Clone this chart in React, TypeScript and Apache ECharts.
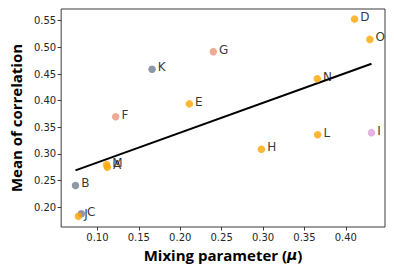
import React, { useEffect, useRef } from "react";
import * as echarts from "echarts";

const names = ["A", "B", "C", "D", "E", "F", "G", "H", "I", "J", "K", "L", "M", "N", "O"];
const mixing = [0.112, 0.0735, 0.0805, 0.4105, 0.211, 0.122, 0.240, 0.298, 0.431, 0.077, 0.166, 0.366, 0.111, 0.3655, 0.429];
const meanCorr = [0.275, 0.241, 0.188, 0.553, 0.394, 0.370, 0.492, 0.309, 0.340, 0.183, 0.459, 0.336, 0.280, 0.441, 0.515];
const groups = ["orange", "slate", "slate", "orange", "orange", "salmon", "salmon", "orange", "plum", "orange", "slate", "orange", "orange", "orange", "orange"];
const groupColors: Record<string, string> = {
  orange: "#FFA500",
  slate: "#708090",
  salmon: "#E9967A",
  plum: "#DDA0DD",
};
const xTicks = [0.1, 0.15, 0.2, 0.25, 0.3, 0.35, 0.4];
const yTicks = [0.2, 0.25, 0.3, 0.35, 0.4, 0.45, 0.5, 0.55];

function fitLine() {
  const n = mixing.length;
  const mx = mixing.reduce((a, b) => a + b, 0) / n;
  const my = meanCorr.reduce((a, b) => a + b, 0) / n;
  let sxy = 0;
  let sxx = 0;
  for (let i = 0; i < n; i++) {
    sxy += (mixing[i] - mx) * (meanCorr[i] - my);
    sxx += (mixing[i] - mx) * (mixing[i] - mx);
  }
  const slope = sxy / sxx;
  const b = my - slope * mx;
  const x0 = Math.min(...mixing);
  const x1 = Math.max(...mixing);
  return [
    [x0, b + slope * x0],
    [x1, b + slope * x1],
  ];
}

export default function App() {
  const ref = useRef<HTMLDivElement>(null);
  useEffect(() => {
    if (!ref.current) return;
    const chart = echarts.init(ref.current, null, { renderer: "svg" });
    const tickLabel = { color: "#262626", fontSize: 10, fontFamily: "DejaVu Sans" };
    chart.setOption({
      animation: false,
      backgroundColor: "#ffffff",
      grid: {
        left: 52,
        right: 9,
        top: 9,
        bottom: 42,
        show: true,
        borderColor: "#3a3a3a",
        borderWidth: 1,
        backgroundColor: "transparent",
      },
      xAxis: {
        type: "value",
        min: 0.0562,
        max: 0.4473,
        name: "Mixing parameter ({mu|μ})",
        nameLocation: "middle",
        nameGap: 28,
        nameTextStyle: {
          fontFamily: "Open Sans",
          fontWeight: "bold",
          fontSize: 15,
          color: "#000",
          verticalAlign: "middle",
          rich: {
            mu: { fontFamily: "DejaVu Sans", fontStyle: "italic", fontSize: 14, color: "#000" },
          },
        },
        splitLine: { show: false },
        axisLine: { show: false },
        axisTick: { show: true, length: 3.5, customValues: xTicks, lineStyle: { color: "#3a3a3a" } },
        axisLabel: {
          ...tickLabel,
          margin: 5,
          customValues: xTicks,
          formatter: (v: number) => v.toFixed(2),
        },
      },
      yAxis: {
        type: "value",
        min: 0.163,
        max: 0.572,
        name: "Mean of correlation",
        nameLocation: "middle",
        nameGap: 43,
        nameTextStyle: {
          fontFamily: "Open Sans",
          fontWeight: "bold",
          fontSize: 15,
          color: "#000",
          verticalAlign: "middle",
        },
        splitLine: { show: false },
        axisLine: { show: false },
        axisTick: { show: true, length: 3.5, customValues: yTicks, lineStyle: { color: "#3a3a3a" } },
        axisLabel: {
          ...tickLabel,
          margin: 5,
          customValues: yTicks,
          formatter: (v: number) => v.toFixed(2),
        },
      },
      series: [
        {
          type: "line",
          data: fitLine(),
          symbol: "none",
          lineStyle: { color: "#000", width: 2 },
          z: 1,
        },
        {
          type: "scatter",
          symbolSize: 7.5,
          z: 2,
          data: names.map((n, i) => ({
            name: n,
            value: [mixing[i], meanCorr[i]],
            itemStyle: { color: groupColors[groups[i]] },
          })),
          label: {
            show: true,
            position: "right",
            distance: 2,
            offset: [0, -2],
            formatter: (p: any) => p.name,
            color: "#000",
            fontSize: 12,
            fontFamily: "DejaVu Sans",
          },
        },
      ],
    });
    return () => chart.dispose();
  }, []);
  return (
    <div
      ref={ref}
      style={{ position: "fixed", left: 0, top: 0, width: 394, height: 269, background: "#fff" }}
    />
  );
}
